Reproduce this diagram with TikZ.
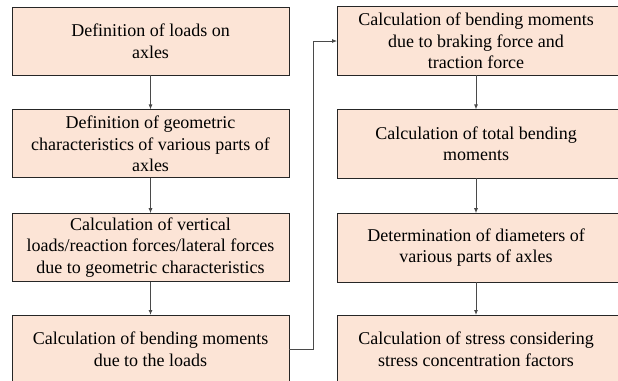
\documentclass[tikz,border=0pt]{standalone}
\usepackage{fontspec}
\setmainfont{Liberation Serif}
\usetikzlibrary{positioning,arrows.meta,backgrounds}
\definecolor{boxfill}{HTML}{FCE4D6}
\definecolor{linegrey}{HTML}{4A4A4A}
\tikzset{
  stepbox/.style={draw=black!85, fill=boxfill, line width=0.8pt, minimum width=277pt,
    minimum height=68pt, align=center, inner sep=0pt, font=\fontsize{18}{21.5}\selectfont},
  rbox/.style={stepbox, draw=none, fill=none},
  flow/.style={draw=linegrey, line width=0.9pt, -{Latex[length=5pt,width=4pt]}}
}
\begin{document}
\begin{tikzpicture}[x=1pt,y=-1pt,node distance=34pt]
	\useasboundingbox (0,0) rectangle (618,380.5);
	\clip (0,0) rectangle (618,380.5);
	% left column
	\node[stepbox] (l1) at (150.5,41) {Definition of loads on\\axles};
	\node[stepbox, below=34pt of l1] (l2) {Definition of geometric\\characteristics  of various parts of\\axles};
	\node[stepbox, below=35pt of l2] (l3) {Calculation of vertical\\loads/reaction forces/lateral forces\\due to geometric characteristics};
	\node[stepbox, below=33pt of l3] (l4) {Calculation of bending moments\\due to the loads};
	% right column
	\node[rbox] (r1) at (476,41) {Calculation of bending moments\\due to braking force and\\traction force};
	\node[rbox, below=34pt of r1] (r2) {Calculation of total bending\\moments};
	\node[rbox, below=35pt of r2] (r3) {Determination of diameters of\\various parts of axles};
	\node[rbox, below=33pt of r3] (r4) {Calculation of stress considering\\stress concentration factors};
	\begin{scope}[on background layer]
		\foreach \n in {r1,r2,r3,r4}
			\filldraw[fill=boxfill, draw=black!85, line width=0.8pt] (\n.north west) rectangle ([xshift=12pt]\n.south east);
	\end{scope}
	% connectors
	\draw[flow] (l1) -- (l2);
	\draw[flow] (l2) -- (l3);
	\draw[flow] (l3) -- (l4);
	\draw[flow] (l4.east) -- ++(24,0) |- (r1.west);
	\draw[flow] (r1) -- (r2);
	\draw[flow] (r2) -- (r3);
	\draw[flow] (r3) -- (r4);
\end{tikzpicture}
\end{document}
